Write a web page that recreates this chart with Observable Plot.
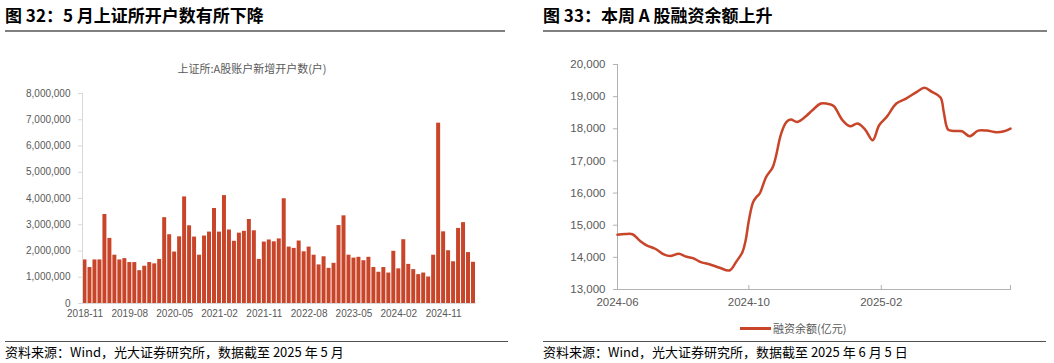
<!DOCTYPE html>
<html><head><meta charset="utf-8">
<script src="https://cdn.jsdelivr.net/npm/d3@7"></script>
<script src="https://cdn.jsdelivr.net/npm/@observablehq/plot@0.6"></script>
<style>
body{margin:0;width:1054px;height:363px;position:relative;background:#fff;overflow:hidden;font-family:"Noto Sans CJK SC",sans-serif;}
.abs{position:absolute;}
.title{font-size:17px;font-weight:bold;color:#000;white-space:nowrap;line-height:17px;}
.rule{height:2px;background:#808080;}
.frule{height:1px;background:#505050;}
.foot{font-size:13px;color:#000;white-space:nowrap;line-height:13px;}
.sub{font-size:11px;color:#595959;white-space:nowrap;line-height:11px;}
</style></head><body>
<div class="abs title" style="left:5px;top:6px;">图 32：5 月上证所开户数有所下降</div>
<div class="abs rule" style="left:5px;top:30px;width:500px;"></div>
<div class="abs title" style="left:543px;top:6px;">图 33：本周 A 股融资余额上升</div>
<div class="abs rule" style="left:543px;top:30px;width:504px;"></div>
<div class="abs sub" id="subL" style="left:0;width:504px;text-align:center;top:63px;"></div>
<div id="left" class="abs" style="left:0;top:78px;"></div>
<div id="right" class="abs" style="left:530px;top:50px;"></div>
<div class="abs" id="legend" style="left:740px;top:323px;display:flex;align-items:center;">
  <span style="display:inline-block;width:31px;height:2.5px;background:#C8452A;margin-right:2px;"></span>
  <span class="sub" id="legText"></span>
</div>
<div class="abs frule" style="left:5px;top:341px;width:503px;"></div>
<div class="abs frule" style="left:543px;top:341px;width:503px;"></div>
<div class="abs foot" style="left:5px;top:345px;">资料来源：Wind，光大证券研究所，数据截至 2025 年 5 月</div>
<div class="abs foot" style="left:543px;top:345px;">资料来源：Wind，光大证券研究所，数据截至 2025 年 6 月 5 日</div>
<script>
// ---------- Left chart data: 上证所 A股账户新增开户数(户) ----------
const leftTitle = "上证所:A股账户新增开户数(户)";
const months = d3.utcMonth.range(new Date(Date.UTC(2018, 10, 1)), new Date(Date.UTC(2025, 5, 1))).map(d3.utcFormat("%Y-%m"));
const newAccounts = [
  1660000, 1370000,
  1660000, 1660000, 3390000, 2480000, 1840000, 1660000, 1710000, 1560000, 1560000, 1250000, 1420000, 1560000,
  1510000, 1680000, 3270000, 2620000, 1960000, 2540000, 4060000, 2960000, 2530000, 1840000, 2570000, 2720000,
  3620000, 2720000, 4110000, 2800000, 2370000, 2680000, 2750000, 3200000, 2770000, 1680000, 2340000, 2420000,
  2350000, 2460000, 3990000, 2150000, 2100000, 2380000, 1970000, 2150000, 1840000, 1470000, 1780000, 1340000,
  1530000, 2970000, 3340000, 1840000, 1730000, 1760000, 1630000, 1760000, 1370000, 1190000, 1370000, 1160000,
  1990000, 1320000, 2430000, 1490000, 1290000, 1100000, 1160000, 1010000, 1840000, 6870000, 2730000, 2010000,
  1590000, 2860000, 3080000, 1940000, 1570000
];
const leftXTicks = ["2018-11","2019-08","2020-05","2021-02","2021-11","2022-08","2023-05","2024-02","2024-11"];
const leftYTicks = [0, 1000000, 2000000, 3000000, 4000000, 5000000, 6000000, 7000000, 8000000];

// ---------- Right chart data: 融资余额(亿元) ----------
const legendLabel = "融资余额(亿元)";
const marginDates = [
  "2024-06-05","2024-06-12","2024-06-19","2024-06-26","2024-07-02","2024-07-10","2024-07-18","2024-07-24",
  "2024-08-01","2024-08-07","2024-08-14","2024-08-22","2024-08-30","2024-09-08","2024-09-17","2024-09-23",
  "2024-09-29","2024-10-02","2024-10-05","2024-10-09","2024-10-12","2024-10-15","2024-10-21","2024-10-27",
  "2024-10-30","2024-11-04","2024-11-09","2024-11-13","2024-11-19","2024-11-27","2024-12-03","2024-12-11",
  "2024-12-19","2024-12-23","2024-12-31","2025-01-07","2025-01-14","2025-01-21","2025-01-28","2025-02-03",
  "2025-02-10","2025-02-19","2025-02-28","2025-03-10","2025-03-17","2025-03-24","2025-04-01","2025-04-04",
  "2025-04-08","2025-04-13","2025-04-21","2025-04-28","2025-05-06","2025-05-14","2025-05-23","2025-05-30",
  "2025-06-05"
];
const marginBalance = [
  14700, 14725, 14720, 14507, 14372, 14268, 14091, 14040,
  14112, 14029, 13977, 13842, 13780, 13676, 13592, 13850,
  14162, 14526, 15150, 15720, 15875, 15981, 16498, 16791,
  17122, 17850, 18212, 18287, 18212, 18390, 18577, 18785,
  18764, 18702, 18266, 18079, 18162, 17975, 17643, 18110,
  18370, 18785, 18941, 19148, 19273, 19148, 18972, 18525,
  17975, 17933, 17923, 17767, 17944, 17944, 17892, 17923,
  18006
];
const rightXTickDates = ["2024-06-05","2024-10-05","2025-02-05","2025-06-05"];
const rightYTicks = [13000, 14000, 15000, 16000, 17000, 18000, 19000, 20000];

document.getElementById("subL").textContent = leftTitle;
document.getElementById("legText").textContent = legendLabel;

const barColor = "#C8452A";
const fmt = d3.format(",");

const leftData = months.map((m, i) => ({month: m, value: newAccounts[i]}));
const left = Plot.plot({
  width: 520, height: 245,
  marginLeft: 82, marginRight: 44.5, marginTop: 15, marginBottom: 20,
  style: {fontFamily: "'Liberation Sans', Arial, sans-serif", fontSize: "10px", background: "transparent"},
  x: {type: "band", domain: months, paddingInner: 0.2, paddingOuter: 0.1, axis: null},
  y: {domain: [0, 8000000], axis: null},
  marks: [
    Plot.barY(leftData, {x: "month", y: "value", fill: barColor}),
    Plot.frame({anchor: "left", stroke: "#d9d9d9"}),
    Plot.ruleY([0], {stroke: "#d9d9d9"}),
    Plot.axisY({ticks: leftYTicks, tickFormat: fmt, tickSize: 4, tickPadding: 8, stroke: "#d9d9d9", fill: "#595959", label: null}),
    Plot.axisX({ticks: leftXTicks, tickSize: 0, tickPadding: 6, fill: "#595959", label: null})
  ]
});
document.getElementById("left").appendChild(left);

const parse = d3.utcParse("%Y-%m-%d");
const rightData = marginDates.map((d, i) => ({date: parse(d), value: marginBalance[i]}));
const xTicks = rightXTickDates.map(parse);
const xEnd = xTicks[xTicks.length - 1];
const monthFmt = d3.utcFormat("%Y-%m");
const right = Plot.plot({
  width: 524, height: 260,
  marginLeft: 87, marginRight: 44, marginTop: 14, marginBottom: 21,
  style: {fontFamily: "'Liberation Sans', Arial, sans-serif", fontSize: "11.5px", background: "transparent"},
  x: {type: "utc", domain: [xTicks[0], xEnd], axis: null},
  y: {domain: [13000, 20000], axis: null},
  marks: [
    Plot.frame({anchor: "left", stroke: "#b3b3b3"}),
    Plot.frame({anchor: "bottom", stroke: "#b3b3b3"}),
    Plot.line(rightData, {x: "date", y: "value", stroke: barColor, strokeWidth: 2.5, curve: "catmull-rom"}),
    Plot.axisY({ticks: rightYTicks, tickFormat: fmt, tickSize: 4, tickPadding: 8, stroke: "#b3b3b3", fill: "#595959", label: null}),
    Plot.axisX({ticks: xTicks, tickFormat: d => (+d === +xEnd ? "" : monthFmt(d)), tickSize: 0, tickPadding: 8, fill: "#595959", label: null}),
    Plot.tickX(xTicks, {x: d => d, stroke: "#b3b3b3", insetTop: 221})
  ]
});
document.getElementById("right").appendChild(right);
</script>
</body></html>
